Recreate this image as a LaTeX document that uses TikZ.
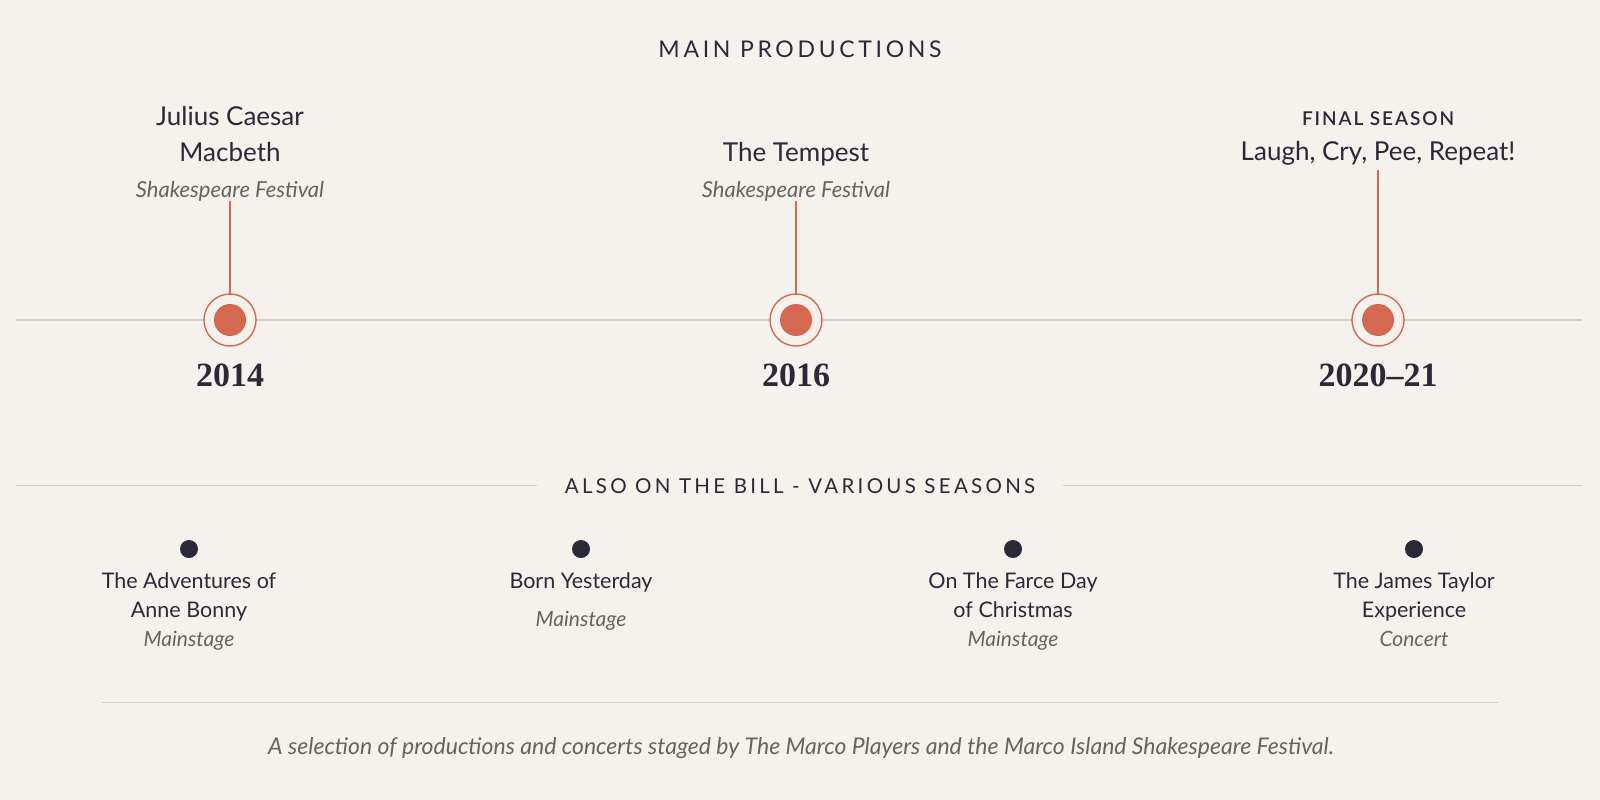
\documentclass[tikz,border=0pt]{standalone}
\usepackage{fontspec}
\setmainfont{Lato}
\newfontfamily\spacedfont[LetterSpace=16]{Lato}
\newfontfamily\labelfont[LetterSpace=10]{Lato Semibold}
\newfontfamily\yearfont{Liberation Serif}
\usepackage{xcolor}
\usetikzlibrary{positioning}
\definecolor{paper}{HTML}{F5F1EC}
\definecolor{ink}{HTML}{2B2937}
\definecolor{rust}{HTML}{D4694F}
\definecolor{rulegrey}{HTML}{D6CEC9}
\definecolor{muted}{HTML}{67635F}

\begin{document}
\begin{tikzpicture}[
        x=1pt, y=-1pt,
        every node/.style={inner sep=0pt, outer sep=0pt},
        heading/.style={font=\spacedfont\fontsize{23}{24}\selectfont, text=ink, anchor=base},
        showname/.style={font=\fontsize{26}{36}\selectfont, text=ink, align=center, anchor=base},
        venue/.style={font=\itshape\fontsize{22}{24}\selectfont, text=muted, anchor=base},
        yearlabel/.style={font=\yearfont\bfseries\fontsize{34}{36}\selectfont, text=ink, anchor=base},
        ring/.style={circle, draw=rust, line width=1.4pt, fill=paper, minimum size=52pt},
        core/.style={circle, fill=rust, minimum size=32pt},
        stem/.style={draw=rust, line width=1.2pt},
        track/.style={draw=rulegrey, line width=1.6pt},
        bullet/.style={circle, fill=ink, minimum size=18pt},
        itemname/.style={font=\fontsize{21.5}{29}\selectfont, text=ink, align=center, anchor=base},
        itemvenue/.style={font=\itshape\fontsize{21}{22}\selectfont, text=muted, anchor=base}
    ]
        \useasboundingbox[fill=paper] (0, 0) rectangle (1600, 800);
        \node[heading] (mainhead) at (800, 57) {MAIN PRODUCTIONS};

        % main timeline
        \coordinate (trackL) at (16, 320);
        \coordinate (trackR) at (1582, 320);
        \draw[track] (trackL) -- (trackR);

        % 2014
        \node[showname] (showA) at (230, 161) {Julius Caesar\\Macbeth};
        \node[venue] (festA) at (230, 197) {Shakespeare Festival};
        \node[ring] (ringA) at (230, 320) {};
        \node[core] (dotA) at (ringA) {};
        \draw[stem] (festA.south) -- (ringA.north);
        \node[yearlabel] (yearA) at (230, 386) {2014};

        % 2016
        \node[showname] (showB) at (796, 161) {The Tempest};
        \node[venue] (festB) at (796, 197) {Shakespeare Festival};
        \node[ring] (ringB) at (796, 320) {};
        \node[core] (dotB) at (ringB) {};
        \draw[stem] (festB.south) -- (ringB.north);
        \node[yearlabel] (yearB) at (796, 386) {2016};

        % 2020-21
        \node[font=\labelfont\fontsize{19}{20}\selectfont, text=ink, anchor=base] (finalC) at (1378, 125) {FINAL SEASON};
        \node[showname] (showC) at (1378, 160) {Laugh, Cry, Pee, Repeat!};
        \node[ring] (ringC) at (1378, 320) {};
        \node[core] (dotC) at (ringC) {};
        \draw[stem] ([yshift=-5pt]showC.south) -- (ringC.north);
        \node[yearlabel] (yearC) at (1378, 386) {2020–21};

        % also on the bill
        \node[heading, font=\spacedfont\fontsize{20.5}{24}\selectfont, inner xsep=28pt] (billhead) at (800, 493) {ALSO ON THE BILL - VARIOUS SEASONS};
        \coordinate (billL) at (16, 485);
        \coordinate (billR) at (1582, 485);
        \draw[track, line width=1pt] (billL) -- (billL -| billhead.west);
        \draw[track, line width=1pt] (billR) -- (billR -| billhead.east);

        \node[bullet] (bulletA) at (189, 549) {};
        \node[itemname] (itemA) at (189, 617) {The Adventures of\\Anne Bonny};
        \node[itemvenue] (placeA) at (189, 646) {Mainstage};

        \node[bullet] (bulletB) at (581, 549) {};
        \node[itemname] (itemB) at (581, 588) {Born Yesterday};
        \node[itemvenue] (placeB) at (581, 626) {Mainstage};

        \node[bullet] (bulletC) at (1013, 549) {};
        \node[itemname] (itemC) at (1013, 617) {On The Farce Day\\of Christmas};
        \node[itemvenue] (placeC) at (1013, 646) {Mainstage};

        \node[bullet] (bulletD) at (1414, 549) {};
        \node[itemname] (itemD) at (1414, 617) {The James Taylor\\Experience};
        \node[itemvenue] (placeD) at (1414, 646) {Concert};

        % footer
        \coordinate (footL) at (102, 702);
        \coordinate (footR) at (1498, 702);
        \draw[track, line width=1pt] (footL) -- (footR);
        \node[font=\itshape\fontsize{23}{24}\selectfont, text=muted, anchor=base] (caption) at (801, 754) {A selection of productions and concerts staged by The Marco Players and the Marco Island Shakespeare Festival.};
    \end{tikzpicture}
\end{document}
